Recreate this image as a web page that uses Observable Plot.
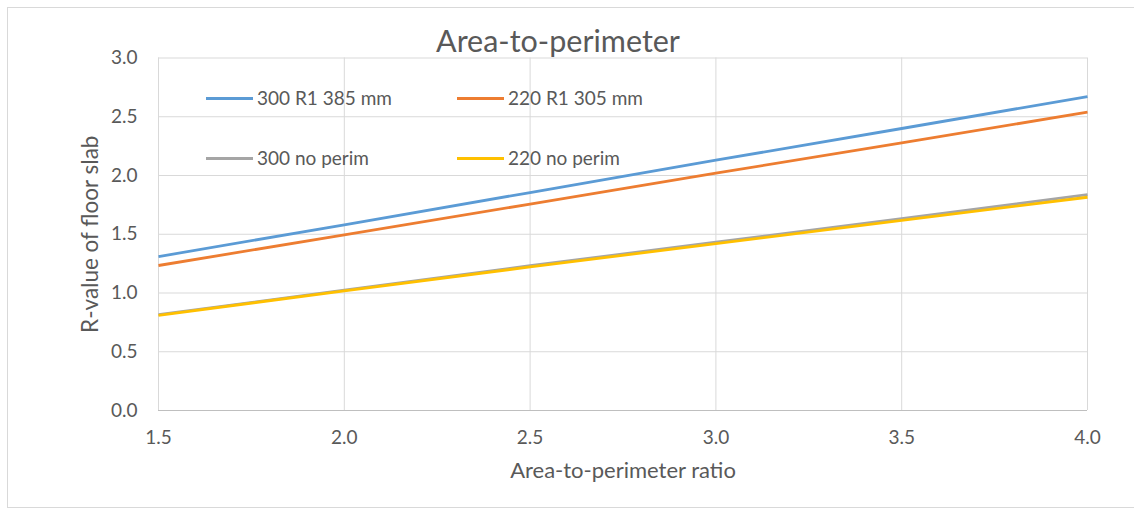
<!DOCTYPE html>
<html>
<head>
<meta charset="utf-8">
<script src="https://cdn.jsdelivr.net/npm/d3@7"></script>
<script src="https://cdn.jsdelivr.net/npm/@observablehq/plot@0.6"></script>
<style>
  html, body { margin: 0; padding: 0; background: #fff; }
  #wrap { position: relative; width: 1134px; height: 512px; overflow: hidden; font-family: Lato, sans-serif; }
  #border { position: absolute; left: 7px; top: 7px; width: 1200px; height: 501px; border: 1px solid #d9d9d9; box-sizing: border-box; }
  #chart { position: absolute; left: 0; top: 0; }
  .leg { position: absolute; font-size: 19px; color: #595959; white-space: nowrap; }
</style>
</head>
<body>
<div id="wrap">
  <div id="border"></div>
  <div id="chart"></div>
  <div id="legend"></div>
</div>
<script>
const xValues = [1.5, 2.0, 2.5, 3.0, 3.5, 4.0];
const seriesNames = ["300 R1 385 mm", "220 R1 305 mm", "300 no perim", "220 no perim"];
const seriesColors = ["#5B9BD5", "#ED7D31", "#A5A5A5", "#FFC000"];
const s300R1 = [1.31, 1.58, 1.855, 2.13, 2.40, 2.672];
const s220R1 = [1.234, 1.495, 1.757, 2.02, 2.278, 2.539];
const s300np = [0.815, 1.025, 1.232, 1.432, 1.632, 1.837];
const s220np = [0.81, 1.018, 1.222, 1.42, 1.618, 1.815];
const xTicks = [1.5, 2.0, 2.5, 3.0, 3.5, 4.0];
const yTicks = [0, 0.5, 1.0, 1.5, 2.0, 2.5, 3.0];
const titleText = "Area-to-perimeter";
const xLabel = "Area-to-perimeter ratio";
const yLabel = "R-value of floor slab";

const allSeries = [s300R1, s220R1, s300np, s220np];
const rows = allSeries.flatMap((vals, si) => xValues.map((x, i) => ({x, y: vals[i], name: seriesNames[si]})));

const textColor = "#595959";
const chart = Plot.plot({
  width: 1134,
  height: 512,
  marginLeft: 158,
  marginRight: 47,
  marginTop: 57.5,
  marginBottom: 102,
  style: {fontFamily: "Lato, sans-serif", color: textColor, background: "transparent"},
  x: {domain: [1.5, 4.0]},
  y: {domain: [0, 3.0]},
  color: {domain: seriesNames, range: seriesColors},
  marks: [
    Plot.gridX(xTicks, {stroke: "#d9d9d9", strokeOpacity: 1}),
    Plot.gridY(yTicks, {stroke: "#d9d9d9", strokeOpacity: 1}),
    Plot.ruleY([0], {stroke: "#bfbfbf", strokeWidth: 1.2}),
    Plot.axisX(xTicks, {tickSize: 0, tickPadding: 20, tickFormat: d => d.toFixed(1), fontSize: 19, fill: textColor, label: null}),
    Plot.axisY(yTicks, {tickSize: 0, tickPadding: 21, tickFormat: d => d.toFixed(1), fontSize: 19, fill: textColor, label: null}),
    Plot.line(rows, {x: "x", y: "y", z: "name", stroke: "name", strokeWidth: 2.8, strokeLinecap: "butt"}),
    Plot.text([titleText], {frameAnchor: "top", dx: -65, dy: -28, fontSize: 30.5, fill: textColor}),
    Plot.text([xLabel], {frameAnchor: "bottom", dy: 67, fontSize: 22, fill: textColor}),
    Plot.text([yLabel], {frameAnchor: "left", dx: -68, rotate: -90, textAnchor: "middle", fontSize: 22.5, fill: textColor})
  ]
});
document.getElementById("chart").appendChild(chart);

// legend (two columns, two rows, inside the plot area)
const legPos = [[206, 98], [457, 98], [206, 158], [457, 158]];
const legend = document.getElementById("legend");
seriesNames.forEach((name, i) => {
  const [lx, ly] = legPos[i];
  const sw = document.createElement("div");
  sw.className = "leg";
  sw.style.left = lx + "px";
  sw.style.top = (ly - 1.5) + "px";
  sw.style.width = "47px";
  sw.style.height = "3px";
  sw.style.background = seriesColors[i];
  legend.appendChild(sw);
  const t = document.createElement("div");
  t.className = "leg";
  t.textContent = name;
  t.style.left = (lx + 51) + "px";
  t.style.top = (ly - 13) + "px";
  t.style.lineHeight = "26px";
  legend.appendChild(t);
});
</script>
</body>
</html>
